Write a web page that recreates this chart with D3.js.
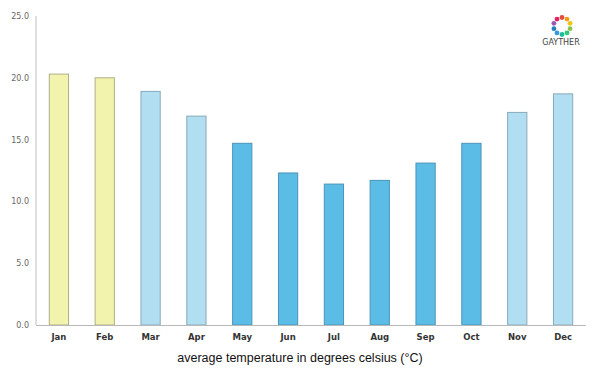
<!DOCTYPE html>
<html><head><meta charset="utf-8">
<script src="https://cdn.jsdelivr.net/npm/d3@7"></script>
<style>body{margin:0;background:#fff}svg{display:block}</style>
</head><body>
<svg id="c" width="600" height="375"></svg>
<script>
const months = ["Jan","Feb","Mar","Apr","May","Jun","Jul","Aug","Sep","Oct","Nov","Dec"];
const temps = [20.3,20.0,18.9,16.9,14.7,12.3,11.4,11.7,13.1,14.7,17.2,18.7];
const seasons = ["hot","hot","mild","mild","cool","cool","cool","cool","cool","cool","mild","mild"];
const yTicks = [0,5,10,15,20,25];
const title = "average temperature in degrees celsius (°C)";
const fills = {hot:"#f2f4ad", mild:"#b1dff1", cool:"#5bbde6"};
const strokes = {hot:"#aeae86", mild:"#8aa9b8", cool:"#4a94b8"};

const svg = d3.select("#c");
const m = {l:36, r:14, t:16, b:50};
const W = 600, H = 375;
const x = d3.scaleBand().domain(months).range([m.l, W-m.r]).paddingInner(0.58).paddingOuter(0.29);
const y = d3.scaleLinear().domain([0,25]).range([H-m.b, m.t]);

svg.append("line").attr("x1",m.l).attr("x2",m.l).attr("y1",y(25)).attr("y2",y(0)).attr("stroke","#d4d4d4").attr("stroke-width",1.5);

const ya = svg.append("g").attr("transform",`translate(${m.l},0)`)
  .call(d3.axisLeft(y).tickValues(yTicks).tickFormat(d3.format(".1f")).tickSize(0).tickPadding(7));
ya.select(".domain").remove();
ya.selectAll("text").attr("font-family","DejaVu Sans, sans-serif").attr("font-size",8).attr("fill","#666");

svg.selectAll("rect.bar").data(months).join("rect").attr("class","bar")
  .attr("x",(d)=>x(d)).attr("width",x.bandwidth())
  .attr("y",(d,i)=>y(temps[i])).attr("height",(d,i)=>y(0)-y(temps[i]))
  .attr("fill",(d,i)=>fills[seasons[i]]).attr("stroke",(d,i)=>strokes[seasons[i]]).attr("stroke-width",1);

svg.append("line").attr("x1",m.l).attr("x2",W-m.r).attr("y1",y(0)+0.5).attr("y2",y(0)+0.5).attr("stroke","#b8b8b8").attr("stroke-width",1.2);
const xa = svg.append("g").attr("transform",`translate(0,${y(0)})`)
  .call(d3.axisBottom(x).tickSize(0).tickPadding(9));
xa.select(".domain").remove();
xa.selectAll("text").attr("font-family","DejaVu Sans, sans-serif").attr("font-size",8.5).attr("font-weight","bold").attr("fill","#333");

svg.append("text").attr("x",300).attr("y",362).attr("text-anchor","middle")
  .attr("font-family","Liberation Sans, Arial, sans-serif").attr("font-size",12.5).attr("fill","#111").text(title);

// logo
const logo = svg.append("g").attr("transform","translate(562,26)");
const cols = ["#e74c3c","#f39c12","#f1c40f","#8bc34a","#2ecc71","#1abc9c","#3498db","#2980b9","#9b59b6","#e91e63"];
d3.range(10).forEach(i=>{
  const a = i/10*2*Math.PI - Math.PI/2;
  logo.append("circle").attr("cx",8.5*Math.cos(a)).attr("cy",8.5*Math.sin(a)).attr("r",2.4).attr("fill",cols[i]);
});
svg.append("text").attr("x",561).attr("y",45).attr("text-anchor","middle")
  .attr("font-family","DejaVu Sans, sans-serif").attr("font-size",8).attr("fill","#444").text("GAYTHER");
</script>
</body></html>
